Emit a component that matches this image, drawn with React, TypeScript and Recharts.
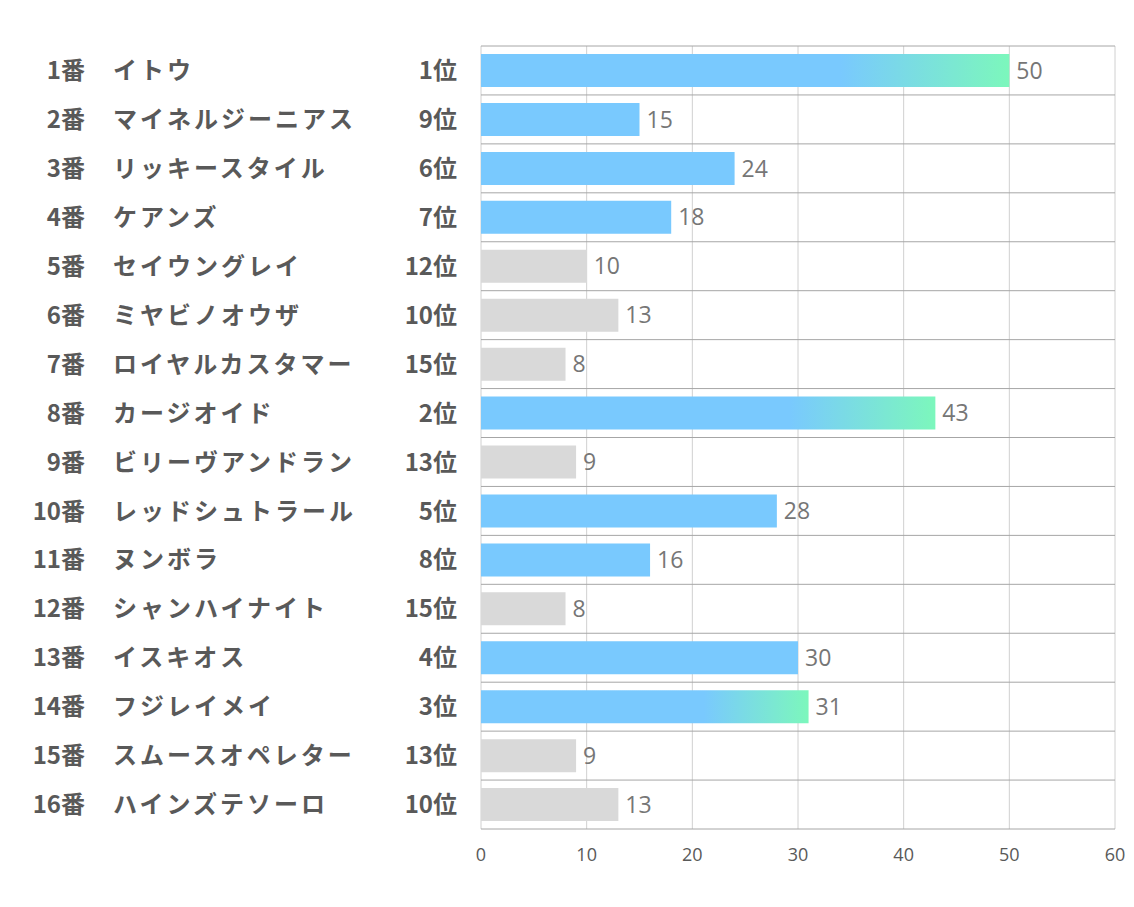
import React from "react";
import { BarChart, Bar, XAxis, YAxis, CartesianGrid, Cell, LabelList } from "recharts";

const numbers = ["1番","2番","3番","4番","5番","6番","7番","8番","9番","10番","11番","12番","13番","14番","15番","16番"];
const names = ["イトウ","マイネルジーニアス","リッキースタイル","ケアンズ","セイウングレイ","ミヤビノオウザ","ロイヤルカスタマー","カージオイド","ビリーヴアンドラン","レッドシュトラール","ヌンボラ","シャンハイナイト","イスキオス","フジレイメイ","スムースオペレター","ハインズテソーロ"];
const ranks = [1,9,6,7,12,10,15,2,13,5,8,15,4,3,13,10];
const values = [50,15,24,18,10,13,8,43,9,28,16,8,30,31,9,13];
const xTicks = [0,10,20,30,40,50,60];

const data = numbers.map((n, i) => ({ num: n, name: names[i], rank: ranks[i], value: values[i] }));

const BLUE = "#79C9FE";
const GREEN = "#7CF7BC";
const GRAY = "#D9D9D9";
const TEXT = "#595959";
const JP = "'Noto Sans CJK JP', 'Noto Sans', sans-serif";

const YTick = (props: any) => {
  const { x, y, index } = props;
  const d = data[index];
  return (
    <g>
      <text x={x - 388} y={y} dy="0.36em" textAnchor="end" fontFamily={JP} fontWeight="bold" fontSize={24} fill={TEXT}>{d.num}</text>
      <text x={x - 360} y={y} dy="0.36em" textAnchor="start" fontFamily={JP} fontWeight="bold" fontSize={24} letterSpacing={3} fill={TEXT}>{d.name}</text>
      <text x={x - 16} y={y} dy="0.36em" textAnchor="end" fontFamily={JP} fontWeight="bold" fontSize={24} fill={TEXT}>{d.rank + "位"}</text>
    </g>
  );
};

export default function App() {
  return (
    <div style={{ position: "absolute", left: 0, top: 0, width: 1134, height: 907, background: "#fff" }}>
      <BarChart
        width={1134}
        height={907}
        data={data}
        layout="vertical"
        margin={{ top: 46, right: 19, bottom: 38, left: 0 }}
      >
        <defs>
          <linearGradient id="topGrad" x1="0" y1="0" x2="1" y2="0">
            <stop offset="0" stopColor={BLUE} />
            <stop offset="0.68" stopColor={BLUE} />
            <stop offset="1" stopColor={GREEN} />
          </linearGradient>
        </defs>
        <CartesianGrid vertical horizontal={false} stroke="#D0D0D0" />
        <CartesianGrid
          vertical={false}
          horizontal
          stroke="#A6A6A6"
          horizontalCoordinatesGenerator={({ offset }: any) =>
            Array.from({ length: data.length + 1 }, (_, i) => offset.top + (i * offset.height) / data.length)
          }
        />
        <XAxis
          type="number"
          domain={[0, 60]}
          ticks={xTicks}
          axisLine={false}
          tickLine={false}
          tickMargin={13}
          height={40}
          tick={{ fill: TEXT, fontSize: 18, fontFamily: "'Open Sans', sans-serif" }}
        />
        <YAxis
          type="category"
          dataKey="num"
          width={481}
          axisLine={false}
          tickLine={false}
          interval={0}
          tick={<YTick />}
        />
        <Bar dataKey="value" barSize={33} isAnimationActive={false}>
          {data.map((d, i) => (
            <Cell key={i} fill={d.rank <= 3 ? "url(#topGrad)" : d.rank <= 9 ? BLUE : GRAY} />
          ))}
          <LabelList
            dataKey="value"
            position="right"
            offset={7}
            fill="#767676"
            fontSize={23}
            fontFamily="'Open Sans', sans-serif"
          />
        </Bar>
      </BarChart>
    </div>
  );
}
